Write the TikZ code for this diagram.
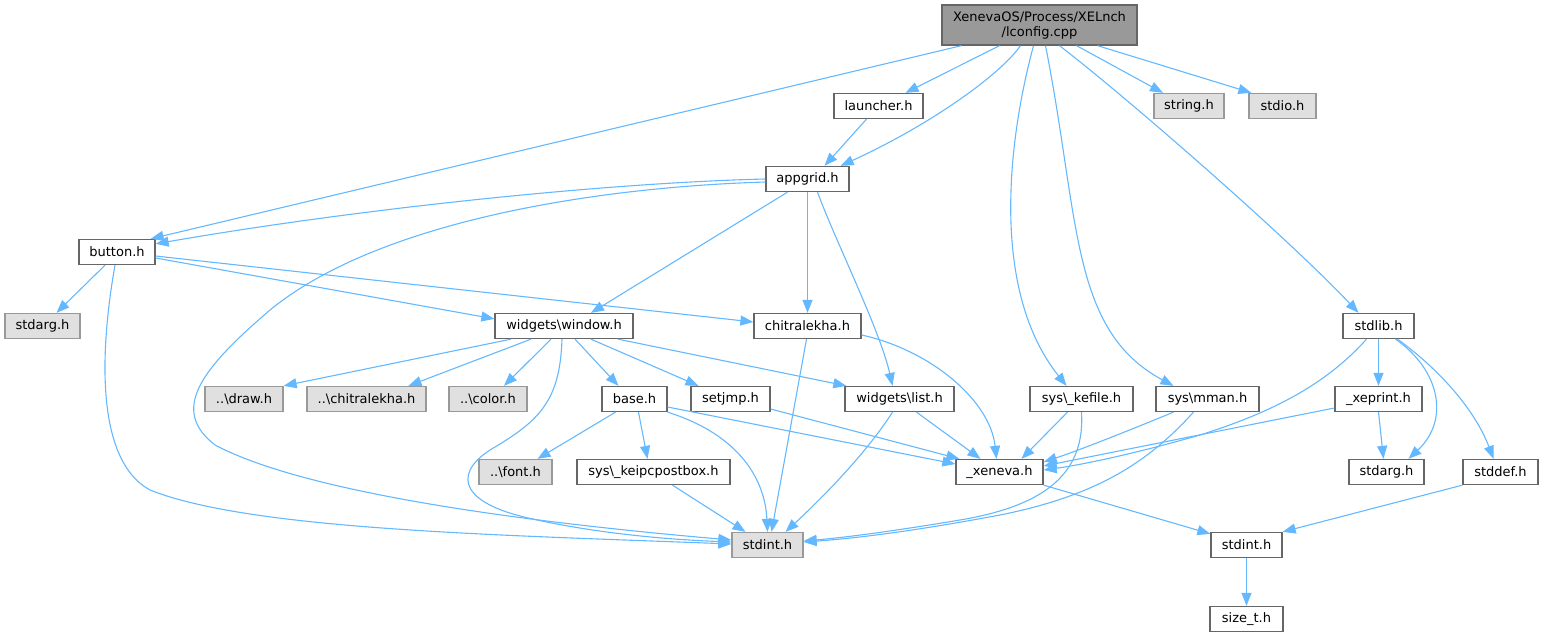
\documentclass[tikz,border=0pt]{standalone}
\usepackage{fontspec}
\setmainfont{DejaVu Sans}
\usetikzlibrary{arrows.meta}
\definecolor{edgeblue}{HTML}{63B8FF}
\definecolor{boxline}{HTML}{666666}
\definecolor{extline}{HTML}{999999}
\definecolor{extfill}{HTML}{E0E0E0}
\definecolor{rootfill}{HTML}{999999}
\newcommand{\bsl}{\textbackslash}
\tikzset{
  hdr/.style={draw=boxline, fill=white, line width=1.3pt, minimum height=25pt, inner sep=0pt,
              font=\fontsize{13}{15}\selectfont},
  ext/.style={hdr, draw=extline, fill=extfill},
  rootfile/.style={hdr, fill=rootfill, minimum height=40pt, align=center},
  dep/.style={draw=edgeblue, line width=1.1pt, -{Triangle[length=13pt,width=10pt]}}
}
\begin{document}
\begin{tikzpicture}[x=1pt, y=-1pt]
  \useasboundingbox (0,0) rectangle (1544,637);
  % files
  \node[rootfile, minimum width=195] (root) at (1039.5,25) {XenevaOS/Process/XELnch\\/lconfig.cpp};
  \node[hdr, minimum width=89]  (launcher) at (878.5,106) {launcher.h};
  \node[ext, minimum width=70]  (string)   at (1189,106)  {string.h};
  \node[ext, minimum width=67]  (stdio)    at (1282.5,106) {stdio.h};
  \node[hdr, minimum width=83]  (appgrid)  at (807.5,179) {appgrid.h};
  \node[hdr, minimum width=76]  (button)   at (117,252)   {button.h};
  \node[ext, minimum width=75]  (stdargL)  at (42.5,326)  {stdarg.h};
  \node[hdr, minimum width=138] (window)   at (564,326)   {widgets\bsl window.h};
  \node[hdr, minimum width=107] (chitra)   at (807.5,326) {chitralekha.h};
  \node[hdr, minimum width=71]  (stdlib)   at (1378.5,326) {stdlib.h};
  \node[ext, minimum width=78]  (draw)     at (244,399)   {..\bsl draw.h};
  \node[ext, minimum width=119] (chitraR)  at (366.5,399) {..\bsl chitralekha.h};
  \node[ext, minimum width=78]  (color)    at (488,399)   {..\bsl color.h};
  \node[hdr, minimum width=65]  (base)     at (634.5,399) {base.h};
  \node[hdr, minimum width=79]  (setjmp)   at (730.5,399) {setjmp.h};
  \node[hdr, minimum width=109] (list)     at (899.5,399) {widgets\bsl list.h};
  \node[hdr, minimum width=103] (kefile)   at (1081.5,399) {sys\bsl\_kefile.h};
  \node[hdr, minimum width=103] (mman)     at (1207.5,399) {sys\bsl mman.h};
  \node[hdr, minimum width=87]  (xeprint)  at (1378.5,399) {\_xeprint.h};
  \node[ext, minimum width=73]  (font)     at (515.5,472) {..\bsl font.h};
  \node[hdr, minimum width=153] (keipc)    at (653.5,472) {sys\bsl\_keipcpostbox.h};
  \node[hdr, minimum width=87]  (xeneva)   at (999.5,472) {\_xeneva.h};
  \node[hdr, minimum width=75]  (stdargR)  at (1386.5,472) {stdarg.h};
  \node[hdr, minimum width=75]  (stddef)   at (1500.5,472) {stddef.h};
  \node[ext, minimum width=71]  (stdintG)  at (767.5,545) {stdint.h};
  \node[hdr, minimum width=71]  (stdintW)  at (1246.5,545) {stdint.h};
  \node[hdr, minimum width=73]  (sizet)    at (1246.5,619) {size\_t.h};
  % includes of lconfig.cpp
  \draw[dep] ([xshift=-78]root.south) -- ([xshift=-5]button.north east);
  \draw[dep] ([xshift=-40]root.south) -- ([xshift=27]launcher.north);
  \draw[dep] ([xshift=-19]root.south) .. controls (1000,75) and (930,125) .. ([xshift=-9]appgrid.north east);
  \draw[dep] ([xshift=-6]root.south) .. controls (1008,140) and (990,290) .. ([xshift=-15]kefile.north);
  \draw[dep] ([xshift=6]root.south) .. controls (1080,220) and (1070,330) .. ([xshift=-34]mman.north);
  \draw[dep] ([xshift=20]root.south) .. controls (1130,100) and (1290,240) .. ([xshift=-20]stdlib.north);
  \draw[dep] ([xshift=37]root.south) -- ([xshift=-26]string.north);
  \draw[dep] ([xshift=58]root.south) -- ([xshift=3]stdio.north west);
  \draw[dep] ([xshift=-12]launcher.south) -- ([xshift=17]appgrid.north);
  % appgrid.h
  \draw[dep] (appgrid.west) .. controls (600,183) and (350,210) .. ([yshift=-5]button.north east);
  \draw[dep] ([yshift=-3]appgrid.west) .. controls (600,187) and (380,220) .. (270,310)
             .. controls (200,370) and (170,410) .. (215,445)
             .. controls (300,490) and (500,520) .. ([yshift=5]stdintG.west);
  \draw[dep] ([xshift=-20]appgrid.south) -- ([xshift=27]window.north);
  \draw[dep] (appgrid) -- (chitra);
  \draw[dep] ([xshift=10]appgrid.south) .. controls (835,240) and (880,330) .. ([xshift=-7]list.north);
  % button.h
  \draw[dep] ([xshift=-12]button.south) -- ([xshift=14]stdargL.north);
  \draw[dep] ([xshift=-2]button.south) .. controls (100,350) and (95,460) .. (150,490)
             .. controls (250,530) and (500,535) .. ([yshift=1]stdintG.west);
  \draw[dep] ([yshift=-6]button.east) -- ([yshift=-6]window.north west);
  \draw[dep] ([yshift=-4]button.east) -- ([yshift=4]chitra.west);
  % widgets\window.h
  \draw[dep] ([xshift=-53]window.south) -- (draw.north east);
  \draw[dep] ([xshift=-33]window.south) -- ([xshift=42]chitraR.north);
  \draw[dep] ([xshift=-13]window.south) -- ([xshift=16]color.north);
  \draw[dep] ([xshift=11]window.south) -- ([xshift=-16]base.north);
  \draw[dep] ([xshift=27]window.south) -- ([xshift=-32]setjmp.north);
  \draw[dep] ([xshift=54]window.south) -- ([xshift=2]list.north west);
  \draw[dep] ([xshift=-2]window.south) .. controls (560,400) and (540,420) .. (495,447)
             .. controls (455,470) and (455,500) .. (524,517)
             .. controls (600,535) and (680,540) .. ([yshift=3]stdintG.west);
  % chitralekha.h
  \draw[dep] ([xshift=-1]chitra.south) -- ([xshift=4]stdintG.north);
  \draw[dep] ([yshift=-9]chitra.east) .. controls (930,350) and (990,400) .. ([xshift=-3]xeneva.north);
  % base.h, setjmp.h, widgets\list.h, sys\_keipcpostbox.h
  \draw[dep] ([xshift=-19]base.south) -- ([xshift=22]font.north);
  \draw[dep] ([xshift=4]base.south) -- ([xshift=-6]keipc.north);
  \draw[dep] (base.south east) .. controls (740,435) and (765,480) .. (stdintG.north);
  \draw[dep] ([yshift=-8]base.east) -- ([yshift=8]xeneva.west);
  \draw[dep] ([yshift=-10]setjmp.east) -- ([xshift=4]xeneva.north west);
  \draw[dep] ([xshift=-7]list.south) .. controls (865,455) and (820,500) .. ([xshift=18]stdintG.north);
  \draw[dep] ([xshift=17]list.south) -- ([xshift=-19]xeneva.north);
  \draw[dep] ([xshift=19]keipc.south) -- ([xshift=-22]stdintG.north);
  % sys\_kefile.h, sys\mman.h
  \draw[dep] ([xshift=-14]kefile.south) -- ([xshift=22]xeneva.north);
  \draw[dep] (kefile.south) .. controls (1085,470) and (1050,505) .. (960,520)
             .. controls (900,530) and (850,537) .. ([yshift=4]stdintG.east);
  \draw[dep] ([xshift=-34]mman.south) .. controls (1130,430) and (1080,450) .. ([yshift=10]xeneva.east);
  \draw[dep] ([xshift=-14]mman.south) .. controls (1150,460) and (1100,495) .. (1000,515)
             .. controls (920,530) and (860,538) .. ([yshift=3]stdintG.east);
  % stdlib.h, _xeprint.h
  \draw[dep] ([xshift=-12]stdlib.south) .. controls (1330,380) and (1280,410) .. (1200,435)
             .. controls (1130,455) and (1080,465) .. ([yshift=2]xeneva.east);
  \draw[dep] (stdlib) -- (xeprint);
  \draw[dep] ([xshift=17]stdlib.south) .. controls (1440,370) and (1450,420) .. ([xshift=22]stdargR.north);
  \draw[dep] ([xshift=19]stdlib.south) .. controls (1440,370) and (1475,410) .. ([xshift=-7]stddef.north);
  \draw[dep] ([yshift=-9]xeprint.west) -- ([yshift=6]xeneva.east);
  \draw[dep] (xeprint.south) -- ([xshift=-3]stdargR.north);
  % _xeneva.h, stddef.h, stdint.h
  \draw[dep] (xeneva.south east) -- ([yshift=-2]stdintW.north west);
  \draw[dep] (stddef.south west) -- (stdintW.north east);
  \draw[dep] (stdintW) -- (sizet);
\end{tikzpicture}
\end{document}
